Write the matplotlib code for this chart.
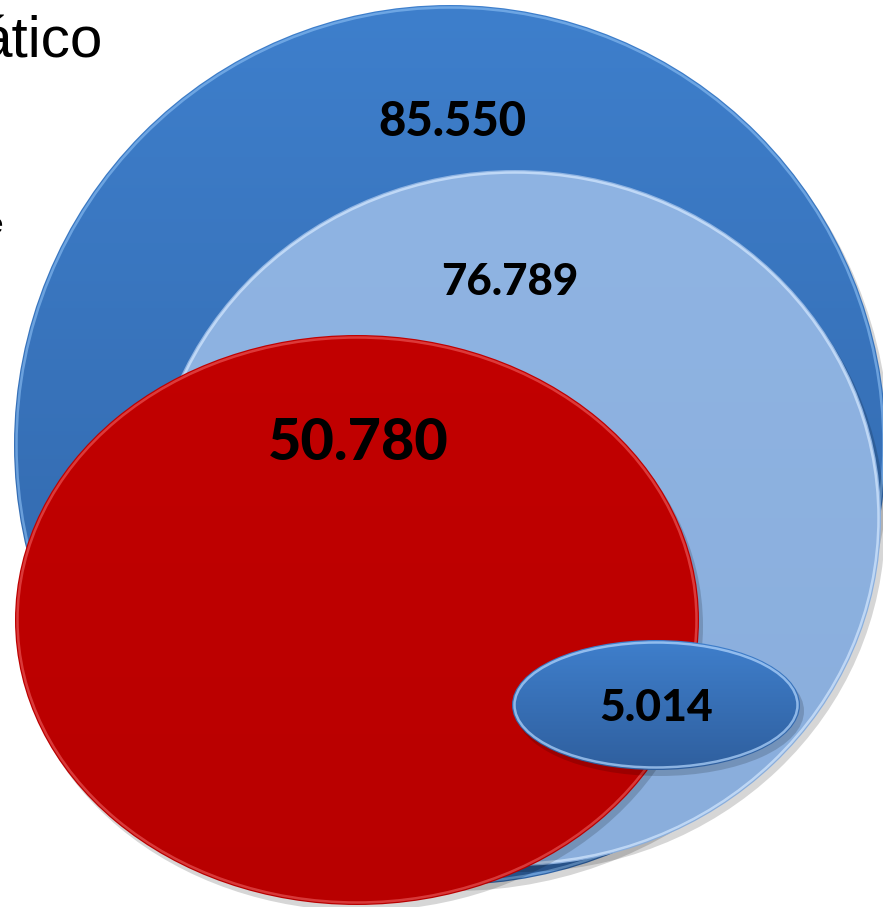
import numpy as np
import matplotlib
matplotlib.use("Agg")
import matplotlib.pyplot as plt
from matplotlib.patches import Ellipse
from matplotlib.colors import LinearSegmentedColormap

# ---- data ----
labels = ["85.550", "76.789", "50.780", "5.014"]
values = [85550, 76789, 50780, 5014]

# ---- layout / styling (pixel space of the 883x907 canvas) ----
centers = [(450, 445), (515, 518), (357, 620), (656, 705)]
radii = [(436, 440), (366, 348), (342, 285), (144, 65)]
top_colors = ["#3e7fcc", "#8fb4e3", "#c20000", "#3f7fcc"]
bot_colors = ["#2f62a3", "#8aaedc", "#b80000", "#2f5f9e"]
rim_colors = ["#8ec1f5", "#d4e8ff", "#ff8080", "#b5d8ff"]
rim_alpha = [0.6, 0.7, 0.45, 0.7]
label_pos = [(452, 122), (510, 282), (358, 443), (656, 708)]
label_sizes = [34, 31.5, 41.5, 32]

W, H = 883, 907
fig = plt.figure(figsize=(W / 100, H / 100), dpi=100)
ax = fig.add_axes([0, 0, 1, 1])
ax.set_xlim(0, W)
ax.set_ylim(H, 0)
ax.set_aspect("equal")
ax.axis("off")

for i, (c, r) in enumerate(zip(centers, radii)):
    sh = Ellipse((c[0] + 4, c[1] + 6), 2 * r[0], 2 * r[1],
                 facecolor="#000000", alpha=0.16, edgecolor="none", zorder=2 * i)
    ax.add_patch(sh)
    e = Ellipse(c, 2 * r[0], 2 * r[1], facecolor="none", edgecolor="none", zorder=2 * i + 1)
    ax.add_patch(e)
    cmap = LinearSegmentedColormap.from_list("g%d" % i, [top_colors[i], bot_colors[i]])
    grad = np.linspace(0, 1, 256).reshape(-1, 1)
    im = ax.imshow(grad, cmap=cmap, aspect="auto",
                   extent=(c[0] - r[0], c[0] + r[0], c[1] + r[1], c[1] - r[1]),
                   zorder=2 * i + 1, interpolation="bilinear")
    im.set_clip_path(e)
    rim = Ellipse(c, 2 * r[0] - 5, 2 * r[1] - 5, facecolor="none",
                  edgecolor=rim_colors[i], linewidth=1.8, alpha=rim_alpha[i], zorder=2 * i + 1.5)
    ax.add_patch(rim)

for lab, p, s in zip(labels, label_pos, label_sizes):
    ax.text(p[0], p[1], lab, ha="center", va="center", fontsize=s,
            fontweight="black", family=["Lato", "DejaVu Sans"], color="black", zorder=20)

# partial slide text cut by the left edge
ax.text(-21, 42, "ático", ha="left", va="center", fontsize=42,
        family=["Liberation Sans", "DejaVu Sans"], color="black", zorder=20)
ax.text(-12, 226, "e", ha="left", va="center", fontsize=20,
        family=["Liberation Sans", "DejaVu Sans"], color="black", zorder=20)

fig.savefig("out.png", dpi=100, facecolor="white")
